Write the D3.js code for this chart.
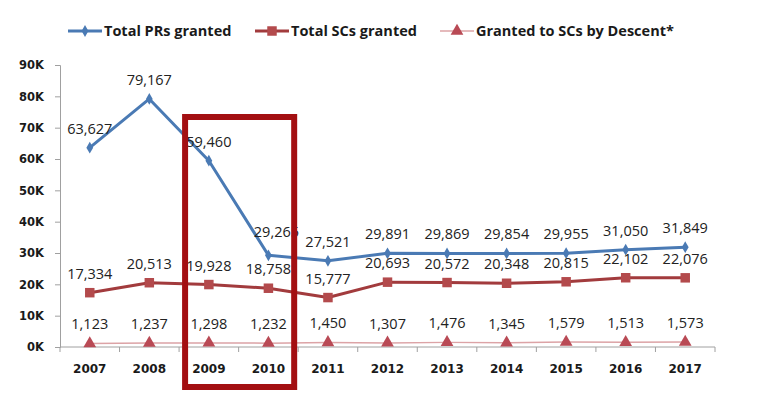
<!DOCTYPE html>
<html>
<head>
<meta charset="utf-8">
<script src="https://cdn.jsdelivr.net/npm/d3@7"></script>
<style>
  body { margin: 0; background: #fff; }
  svg { display: block; }
</style>
</head>
<body>
<svg id="chart"></svg>
<script>
const years = ['2007', '2008', '2009', '2010', '2011', '2012', '2013', '2014', '2015', '2016', '2017'];
const totalPRs = [63627, 79167, 59460, 29265, 27521, 29891, 29869, 29854, 29955, 31050, 31849];
const totalSCs = [17334, 20513, 19928, 18758, 15777, 20693, 20572, 20348, 20815, 22102, 22076];
const byDescent = [1123, 1237, 1298, 1232, 1450, 1307, 1476, 1345, 1579, 1513, 1573];
const yTicks = [0, 10000, 20000, 30000, 40000, 50000, 60000, 70000, 80000, 90000];
const highlighted = ['2009', '2010'];

const width = 757;
const height = 399;
const svg = d3.select('#chart').attr('width', width).attr('height', height);

const x = d3.scaleBand().domain(years).range([60, 715]).padding(0);
const cx = d => x(d) + x.bandwidth() / 2;
const y = d3.scaleLinear().domain([0, 90000]).range([347, 65]);

const series = [
  { name: 'Total PRs granted', values: totalPRs, color: '#4a7ab4', width: 3, marker: 'diamond', markerColor: '#4a7ab4', size: 40 },
  { name: 'Total SCs granted', values: totalSCs, color: '#a23b3d', width: 3, marker: 'square', markerColor: '#b34a4c', size: 90 },
  { name: 'Granted to SCs by Descent*', values: byDescent, color: '#dca3a6', width: 1.5, marker: 'triangle', markerColor: '#b94a55', size: 70 }
];
const symbols = { diamond: d3.symbolDiamond, square: d3.symbolSquare, triangle: d3.symbolTriangle };

// y axis
const yAxis = svg.append('g')
  .attr('transform', 'translate(60,0)')
  .call(d3.axisLeft(y).tickValues(yTicks).tickSize(5).tickPadding(11)
    .tickFormat(d => (d / 1000) + 'K'));
yAxis.selectAll('line, path').attr('stroke', '#a0a0a0');
yAxis.selectAll('text')
  .style('font-family', '"DejaVu Sans", sans-serif')
  .style('font-weight', 'bold')
  .style('font-size', '11.5px')
  .attr('fill', '#1a1a1a');

// x axis, ticks sit between the categories
const lastEdge = x(years[years.length - 1]) + x.bandwidth();
const xg = svg.append('g').attr('transform', 'translate(0,347)');
xg.append('line').attr('x1', 60).attr('x2', 715).attr('stroke', '#a0a0a0');
xg.selectAll('.tk').data(years.map(d => x(d)).concat([lastEdge])).enter().append('line')
  .attr('x1', d => d).attr('x2', d => d)
  .attr('y1', 0).attr('y2', 5).attr('stroke', '#a0a0a0');
xg.selectAll('.yl').data(years).enter().append('text')
  .attr('x', d => cx(d)).attr('y', 26)
  .attr('text-anchor', 'middle')
  .style('font-family', '"DejaVu Sans", sans-serif')
  .style('font-weight', 'bold')
  .style('font-size', '12px')
  .attr('fill', '#1a1a1a')
  .text(d => d);

// lines, markers, labels
const line = d3.line().x((d, i) => cx(years[i])).y(d => y(d));
series.forEach((s, si) => {
  svg.append('path')
    .datum(s.values)
    .attr('d', line)
    .attr('fill', 'none')
    .attr('stroke', s.color)
    .attr('stroke-width', s.width)
    .attr('stroke-linejoin', 'round');
  svg.append('g').selectAll('path').data(s.values).enter().append('path')
    .attr('d', d3.symbol().type(symbols[s.marker]).size(s.size))
    .attr('transform', (d, i) => `translate(${cx(years[i])},${y(d)})`)
    .attr('fill', s.markerColor);
  // the 2010 PR label sits a little to the right, half under the box
  svg.append('g').selectAll('text').data(s.values).enter().append('text')
    .attr('x', (d, i) => cx(years[i]) + (si === 0 && i === 3 ? 8 : 0))
    .attr('y', (d, i) => y(d) - 14 - (si === 0 && i === 3 ? 4 : 0))
    .attr('text-anchor', 'middle')
    .style('font-family', '"Open Sans", sans-serif')
    .style('font-size', '14.5px')
    .attr('fill', '#222')
    .text(d => d3.format(',')(d));
});

// legend
const legendX = [68, 255, 440];
const legend = svg.append('g');
series.forEach((s, i) => {
  const g = legend.append('g').attr('transform', `translate(${legendX[i]},31)`);
  g.append('line').attr('x1', 0).attr('x2', 34).attr('stroke', s.color).attr('stroke-width', s.width);
  g.append('path').attr('d', d3.symbol().type(symbols[s.marker]).size(s.size)).attr('transform', 'translate(17,0)').attr('fill', s.markerColor);
  g.append('text').attr('x', 36).attr('y', 5)
    .style('font-family', '"Open Sans", sans-serif')
    .style('font-weight', 'bold')
    .style('font-size', '14.5px')
    .attr('fill', '#1a1a1a')
    .text(s.name);
});

// highlight box around 2009-2010
const boxLeft = x(highlighted[0]) + 6;
const boxRight = x(highlighted[1]) + x.bandwidth() - 4;
svg.append('rect')
  .attr('x', boxLeft)
  .attr('y', 117)
  .attr('width', boxRight - boxLeft)
  .attr('height', 270)
  .attr('fill', 'none')
  .attr('stroke', '#a30f12')
  .attr('stroke-width', 6);
</script>
</body>
</html>
